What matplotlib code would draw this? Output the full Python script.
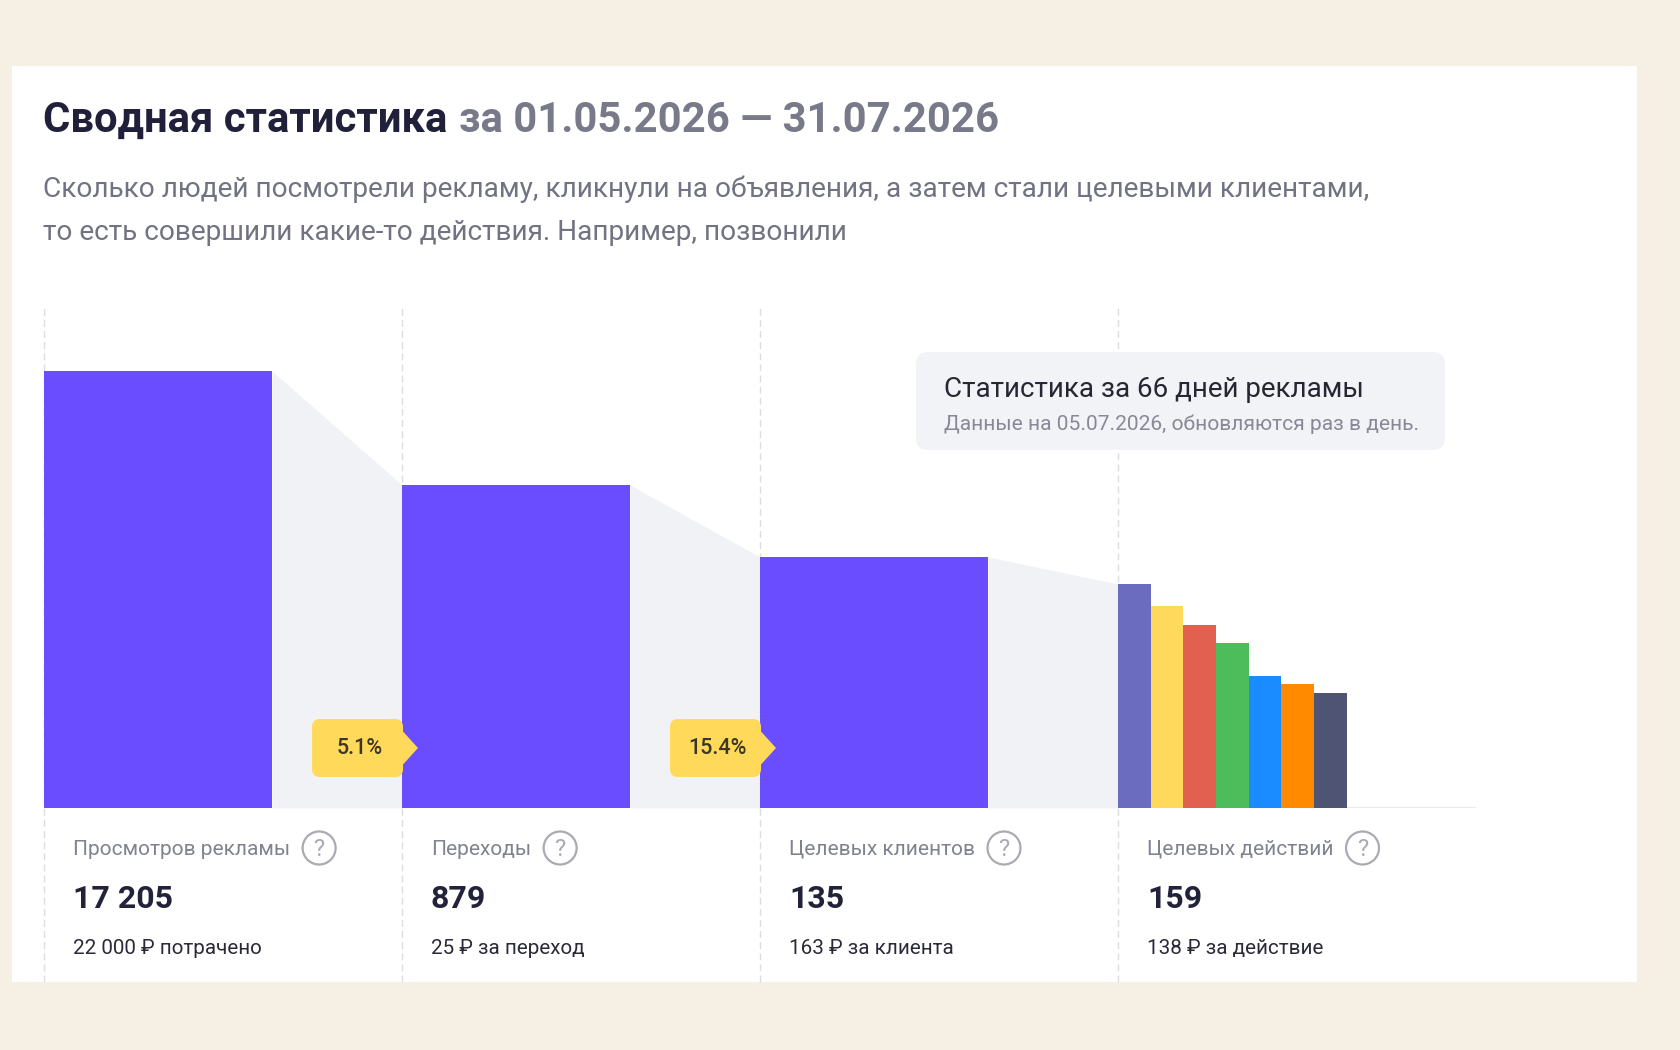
import matplotlib.pyplot as plt
from matplotlib.patches import FancyBboxPatch, Polygon, Circle, Rectangle

plt.rcParams['font.family'] = ['Roboto', 'DejaVu Sans']

# funnel data
stages = ['Просмотров рекламы', 'Переходы', 'Целевых клиентов', 'Целевых действий']
totals = [17205, 879, 135, 159]
total_labels = ['17 205', '879', '135', '159']
cost_labels = ['22 000 ₽ потрачено', '25 ₽ за переход', '163 ₽ за клиента', '138 ₽ за действие']
# bar heights (screen units, not to scale with totals)
stage_heights = [437, 323, 251]
action_heights = [224, 202, 183, 165, 132, 124, 115]
action_colors = ['#6b6bc0', '#ffd95c', '#e2604f', '#4cbd5a', '#1a8cff', '#ff8a00', '#4f5474']

title_dark = 'Сводная статистика'
title_gray = 'за 01.05.2026 — 31.07.2026'
subtitle = ['Сколько людей посмотрели рекламу, кликнули на объявления, а затем стали целевыми клиентами,',
            'то есть совершили какие-то действия. Например, позвонили']
tip_title = 'Статистика за 66 дней рекламы'
tip_text = 'Данные на 05.07.2026, обновляются раз в день.'

BAR = '#6a4dff'
FUNNEL = '#f1f2f6'
BADGE = '#ffd95a'

fig = plt.figure(figsize=(16.8, 10.5), dpi=100)
fig.patch.set_facecolor('#f5efe4')

# background / panel layer in pixel coords
bg = fig.add_axes([0, 0, 1, 1])
bg.set_xlim(0, 1680)
bg.set_ylim(1050, 0)
bg.axis('off')
bg.add_patch(Rectangle((12, 66), 1625, 916, fc='white', ec='none'))

# chart
ax = fig.add_axes([44 / 1680, 242 / 1050, 1432 / 1680, 503 / 1050])
ax.set_xlim(0, 4)
ax.set_ylim(0, 503)
ax.axis('off')
ax.patch.set_alpha(0)

bw = 0.637
aw = 0.0913
ax.vlines(range(4), -174, 503, colors='#dcdde3', linestyles=(0, (5, 3)), lw=1, clip_on=False, zorder=0)
ax.axhline(0, color='#e4e5ea', lw=1.2, zorder=0.5)

next_heights = stage_heights[1:] + [action_heights[0]]
for i, (h, hn) in enumerate(zip(stage_heights, next_heights)):
    ax.fill_between([i + bw, i + 1], [h, hn], 0, color=FUNNEL, lw=0, zorder=1)

ax.bar(range(3), stage_heights, width=bw, align='edge', color=BAR, zorder=2)
ax.bar([3 + k * aw for k in range(7)], action_heights, width=aw, align='edge',
       color=action_colors, zorder=2)

# overlay layer
fg = fig.add_axes([0, 0, 1, 1])
fg.set_xlim(0, 1680)
fg.set_ylim(1050, 0)
fg.axis('off')
fg.patch.set_alpha(0)


def to_px(x, y):
    dx, dy = ax.transData.transform((x, y))
    return dx, 1050 - dy


renderer = fig.canvas.get_renderer()

# title
t1 = fg.text(43, 132, title_dark, fontsize=30.2, weight='bold', color='#20203a', va='baseline')
bb = t1.get_window_extent(renderer)
fg.text(bb.x1 + 12, 132, title_gray, fontsize=30.2, weight='bold', color='#787a8a', va='baseline')
for k, line in enumerate(subtitle):
    fg.text(43, 197 + 43 * k, line, fontsize=20.2, color='#717382', va='baseline')

# conversion badges
base_y = to_px(0, 0)[1]
for i in range(2):
    conv = totals[i + 1] / totals[i] * 100
    tip_x = to_px(i + 1, 0)[0] + 16
    yc = base_y - 60
    left, right, top, bot = tip_x - 106, tip_x - 23, yc - 29, yc + 29
    fg.add_patch(FancyBboxPatch((left + 8, top + 8), right - left - 8, bot - top - 16,
                                boxstyle='round,pad=8', fc=BADGE, ec='none'))
    fg.add_patch(Polygon([(right - 14, top + 1.5), (right - 2, top + 1.5), (tip_x, yc),
                          (right - 2, bot - 1.5), (right - 14, bot - 1.5)],
                         closed=True, fc=BADGE, ec='none'))
    fg.text((left + right) / 2 + 6, yc, f'{conv:.1f}%', fontsize=15.5, weight='medium',
            color='#3b3626', ha='center', va='center')

# tooltip
r = 12
fg.add_patch(FancyBboxPatch((916 + r, 352 + r), 529 - 2 * r, 98 - 2 * r,
                            boxstyle=f'round,pad={r}', fc='#f2f3f6', ec='none'))
fg.text(944, 397, tip_title, fontsize=20, color='#272734', va='baseline')
fg.text(944, 430, tip_text, fontsize=15.1, color='#878998', va='baseline')

# column captions
for k in range(4):
    x0 = to_px(k, 0)[0] + 29
    lab = fg.text(x0, 855, stages[k], fontsize=15, color='#80828f', va='baseline')
    lb = lab.get_window_extent(renderer)
    cx = lb.x1 + 29
    fg.add_patch(Circle((cx, 848), 16.5, fill=False, ec='#a9aab2', lw=1.6))
    fg.text(cx, 849, '?', fontsize=17, color='#a9aab2', ha='center', va='center')
    fg.text(x0, 908, total_labels[k], fontsize=23, weight='bold', color='#22223a', va='baseline')
    fg.text(x0, 954, cost_labels[k], fontsize=14.9, color='#2a2a38', va='baseline')

fig.savefig('out.png', dpi=100, facecolor=fig.get_facecolor())
